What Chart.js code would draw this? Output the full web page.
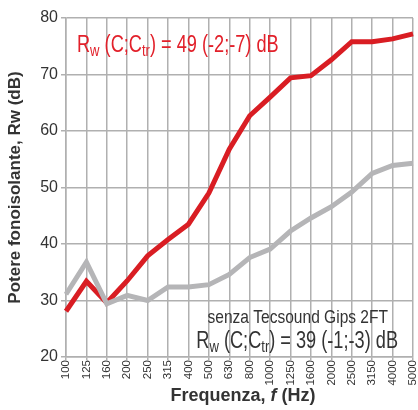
<!DOCTYPE html>
<html>
<head>
<meta charset="utf-8">
<script src="https://cdn.jsdelivr.net/npm/chart.js@4/dist/chart.umd.min.js"></script>
<style>
  html, body { margin: 0; padding: 0; background: #fff; }
  #wrap { width: 418px; height: 410px; }
</style>
</head>
<body>
<div id="wrap"><canvas id="chart" width="418" height="410"></canvas></div>
<script>
// frequency bands (Hz)
var freqs = ["100", "125", "160", "200", "250", "315", "400", "500", "630", "800",
             "1000", "1250", "1600", "2000", "2500", "3150", "4000", "5000"];
// with Tecsound Gips 2FT
var conTecsound = [28.1, 33.4, 29.6, 33.5, 37.9, 40.8, 43.5, 49.0, 56.8, 62.7,
                   66.0, 69.4, 69.8, 72.6, 75.8, 75.8, 76.3, 77.2];
// senza Tecsound Gips 2FT
var senzaTecsound = [31.1, 36.8, 29.4, 30.9, 30.0, 32.4, 32.4, 32.8, 34.6, 37.6,
                     39.1, 42.3, 44.6, 46.6, 49.2, 52.5, 53.9, 54.3];
var yTicks = [20, 30, 40, 50, 60, 70, 80];

var textFont = '"Liberation Sans", Arial, sans-serif';

// draws text made of pieces (some as subscript), squeezed horizontally by sx
drawRich = (ctx, x, y, parts, size, color, align, sx) => {
    var total = 0;
    parts.forEach(function(p) {
        ctx.font = (p.sub ? size * 0.72 : size) + 'px ' + textFont;
        total += ctx.measureText(p.t).width;
    });
    ctx.save();
    ctx.translate(x, y);
    ctx.scale(sx, 1);
    var cx = align === 'right' ? -total : 0;
    ctx.fillStyle = color;
    ctx.textBaseline = 'alphabetic';
    ctx.textAlign = 'left';
    parts.forEach(function(p) {
        ctx.font = (p.sub ? size * 0.72 : size) + 'px ' + textFont;
        ctx.fillText(p.t, cx, p.sub ? size * 0.18 : 0);
        cx += ctx.measureText(p.t).width;
    });
    ctx.restore();
};

var labelsPlugin = {
    id: 'labels',
    afterDraw: function(chart) {
        var ctx = chart.ctx, a = chart.chartArea;
        ctx.save();
        drawRich(ctx, a.left + 11, a.top + 34, [
            {t: 'R'}, {t: 'w', sub: true}, {t: ' (C;C'}, {t: 'tr', sub: true}, {t: ') = 49 (-2;-7) dB'}
        ], 23, '#e2202a', 'left', 0.79);
        drawRich(ctx, a.right - 25, a.bottom - 34, [
            {t: 'senza Tecsound Gips 2FT'}
        ], 18.5, '#333333', 'right', 0.84);
        drawRich(ctx, a.right - 15, a.bottom - 9, [
            {t: 'R'}, {t: 'w', sub: true}, {t: ' (C;C'}, {t: 'tr', sub: true}, {t: ') = 39 (-1;-3) dB'}
        ], 23, '#333333', 'right', 0.79);

        // x axis title with italic f
        var parts = [
            {t: 'Frequenza, ', f: 'bold 18px'},
            {t: 'f', f: 'italic bold 18px'},
            {t: ' (Hz)', f: 'bold 18px'}
        ];
        var w = 0;
        parts.forEach(function(p) { ctx.font = p.f + ' ' + textFont; w += ctx.measureText(p.t).width; });
        var x = 243 - w / 2;
        ctx.fillStyle = '#333';
        ctx.textBaseline = 'alphabetic';
        parts.forEach(function(p) {
            ctx.font = p.f + ' ' + textFont;
            ctx.fillText(p.t, x, 401);
            x += ctx.measureText(p.t).width;
        });
        ctx.restore();
    }
};

drawChart = () => {
    new Chart(document.getElementById("chart"), {
        type: 'line',
        data: {
            labels: freqs,
            datasets: [{
                label: "senza Tecsound",
                data: senzaTecsound,
                borderColor: "#b5b5b7",
                borderWidth: 5,
                pointRadius: 0,
                tension: 0,
                fill: false
            }, {
                label: "con Tecsound",
                data: conTecsound,
                borderColor: "#d91d23",
                borderWidth: 5,
                pointRadius: 0,
                tension: 0,
                fill: false
            }]
        },
        options: {
            responsive: false,
            animation: false,
            layout: { padding: { top: 18, right: 5, left: 5, bottom: 0 } },
            plugins: {
                legend: { display: false },
                tooltip: { enabled: false }
            },
            scales: {
                x: {
                    offset: false,
                    grid: { color: '#b0b0b0', lineWidth: 1.5, drawTicks: true, tickLength: 3 },
                    border: { color: '#b0b0b0', width: 1.5 },
                    ticks: {
                        color: '#333',
                        minRotation: 90,
                        maxRotation: 90,
                        autoSkip: false,
                        padding: 0,
                        font: { family: 'Liberation Sans, Arial', size: 11.5 }
                    },
                    afterFit: function(scale) { scale.height = 53; scale.paddingRight = 0; scale.paddingLeft = 0; }
                },
                y: {
                    min: 20,
                    max: 80,
                    afterBuildTicks: function(scale) { scale.ticks = yTicks.map(function(v) { return { value: v }; }); },
                    grid: { color: '#b0b0b0', lineWidth: 1.5, tickLength: 5 },
                    border: { color: '#b0b0b0', width: 1.5 },
                    ticks: {
                        color: '#333',
                        padding: 3,
                        font: { family: 'Liberation Sans, Arial', size: 16 }
                    },
                    title: {
                        display: true,
                        text: 'Potere fonoisolante, Rw (dB)',
                        color: '#333',
                        padding: { top: 0, bottom: 3 },
                        font: { family: 'Liberation Sans, Arial', size: 17, weight: 'bold' }
                    },
                    afterFit: function(scale) { scale.width = 61; }
                }
            }
        },
        plugins: [labelsPlugin]
    });
}

(function (){
    drawChart();
}());
</script>
</body>
</html>
